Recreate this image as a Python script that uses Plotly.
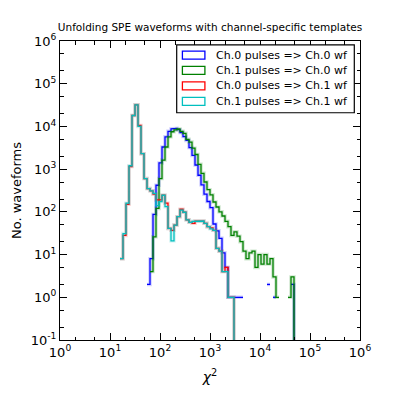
import numpy as np
import plotly.graph_objects as go

# Histogram binning: 100 log-spaced bins from 1 to 1e6
bin_edges = np.logspace(0, 6, 101)

# Counts per bin (first bin index given separately)
first_bin_ch0_ch0 = 29
ch0_pulses_ch0_wf = [2, 8, 87, 420, 1400, 3300, 5700, 7700, 8800, 9000, 8400, 7200,
                     5800, 4700, 3200, 2100, 1250, 720, 430, 260, 175, 125, 52, 36,
                     24, 11, 5, 1, 1, 1, 1, 1, 0, 0, 0, 0, 0, 0, 0, 0, 2, 0, 1,
                     0, 0, 0, 0, 0, 2]

first_bin_ch1_ch0 = 30
ch1_pulses_ch0_wf = [4, 26, 120, 600, 1630, 3300, 5700, 7500, 8300, 8700, 7700, 6900,
                     5000, 4300, 3100, 2200, 1300, 800, 500, 330, 250, 170, 130, 100,
                     80, 60, 45, 28, 34, 27, 20, 12, 8, 11, 12, 5, 10, 6, 10, 6, 8,
                     3, 1, 0, 0, 0, 1, 3]

first_bin_ch0_ch1 = 20
ch0_pulses_ch1_wf = [8, 28, 150, 1150, 18000, 32000, 10500, 2300, 600, 350, 310, 260,
                     190, 190, 245, 160, 41, 37, 49, 77, 115, 98, 65, 57, 54, 61, 61,
                     61, 54, 45, 42, 37, 14, 12, 4, 5, 1, 1]

first_bin_ch1_ch1 = 20
ch1_pulses_ch1_wf = [8, 31, 160, 1200, 18000, 32000, 10000, 2300, 600, 350, 310, 270,
                     140, 174, 245, 132, 41, 21, 49, 77, 110, 98, 65, 57, 60, 61, 61,
                     61, 54, 45, 40, 37, 14, 12, 4, 4, 1, 1]

series_names = ["Ch.0 pulses => Ch.0 wf", "Ch.1 pulses => Ch.0 wf",
                "Ch.0 pulses => Ch.1 wf", "Ch.1 pulses => Ch.1 wf"]
series_colors = ["#0000ff", "#008000", "#ff0000", "#00bfbf"]

x_tick_vals = [1, 10, 100, 1e3, 1e4, 1e5, 1e6]
x_tick_text = ["10<sup>0</sup>", "10<sup>1</sup>", "10<sup>2</sup>", "10<sup>3</sup>",
               "10<sup>4</sup>", "10<sup>5</sup>", "10<sup>6</sup>"]
y_tick_vals = [0.1, 1, 10, 100, 1e3, 1e4, 1e5, 1e6]
y_tick_text = ["10<sup>-1</sup>", "10<sup>0</sup>", "10<sup>1</sup>", "10<sup>2</sup>",
               "10<sup>3</sup>", "10<sup>4</sup>", "10<sup>5</sup>", "10<sup>6</sup>"]

Y_FLOOR = 1e-3  # zero counts at the end drop below the axis


def step_path(first_bin, counts):
    xs, ys = [], []
    nz = [i for i, v in enumerate(counts) if v > 0]
    last = nz[-1]
    prev = False
    for i, v in enumerate(counts):
        k = first_bin + i
        if v > 0:
            xs += [bin_edges[k], bin_edges[k + 1]]
            ys += [v, v]
            prev = True
        else:
            if prev:
                xs.append(None)
                ys.append(None)
            prev = False
    xs.append(bin_edges[first_bin + last + 1])
    ys.append(Y_FLOOR)
    return xs, ys


all_series = [(first_bin_ch0_ch0, ch0_pulses_ch0_wf),
              (first_bin_ch1_ch0, ch1_pulses_ch0_wf),
              (first_bin_ch0_ch1, ch0_pulses_ch1_wf),
              (first_bin_ch1_ch1, ch1_pulses_ch1_wf)]

fig = go.Figure()
for (fb, counts), name, col in zip(all_series, series_names, series_colors):
    xs, ys = step_path(fb, counts)
    fig.add_trace(go.Scatter(x=xs, y=ys, mode="lines", name=name, showlegend=False,
                             line=dict(color=col, width=3.5), opacity=0.18,
                             hoverinfo="skip"))
    fig.add_trace(go.Scatter(x=xs, y=ys, mode="lines", name=name, showlegend=False,
                             line=dict(color=col, width=1.3)))

axis_common = dict(type="log", showline=True, linecolor="black", linewidth=1,
                   mirror="ticks", ticks="inside", ticklen=7, tickcolor="black",
                   showgrid=False, zeroline=False,
                   tickfont=dict(family="DejaVu Sans", size=13, color="black"),
                   minor=dict(ticks="inside", ticklen=3.5, tickcolor="black",
                              showgrid=False))

fig.update_xaxes(range=[0, 6], tickmode="array", tickvals=x_tick_vals,
                 ticktext=x_tick_text,
                 title=dict(text="<i>χ</i><sup>2</sup>", standoff=13,
                            font=dict(family="DejaVu Sans", size=14, color="black")),
                 **axis_common)
fig.update_yaxes(range=[-1, 6], tickmode="array", tickvals=y_tick_vals,
                 ticktext=y_tick_text,
                 title=dict(text="No. waveforms", standoff=6,
                            font=dict(family="DejaVu Sans", size=13, color="black")),
                 **axis_common)

# Legend drawn as a framed box with rectangle handles
box_x0, box_x1, box_y0, box_y1 = 0.389, 0.981, 0.760, 0.987
fig.add_shape(type="rect", xref="paper", yref="paper", x0=box_x0, x1=box_x1,
              y0=box_y0, y1=box_y1, line=dict(color="black", width=1.2),
              fillcolor="white", layer="above")
entry_y = [0.953, 0.902, 0.850, 0.798]
for yy, name, col in zip(entry_y, series_names, series_colors):
    fig.add_shape(type="rect", xref="paper", yref="paper", x0=0.408, x1=0.483,
                  y0=yy - 0.0134, y1=yy + 0.0134, line=dict(color=col, width=1.3),
                  fillcolor="white", layer="above")
    fig.add_annotation(xref="paper", yref="paper", x=0.513, y=yy, text=name,
                       showarrow=False, xanchor="left", yanchor="middle",
                       font=dict(family="DejaVu Sans", size=11, color="black"))

fig.update_layout(
    width=400, height=400,
    margin=dict(l=60, r=40, t=41, b=60),
    paper_bgcolor="white", plot_bgcolor="white",
    showlegend=False,
    title=dict(text="Unfolding SPE waveforms with channel-specific templates",
               x=0.5, xref="paper", y=1 - 27 / 400, yref="container",
               xanchor="center", yanchor="middle",
               font=dict(family="DejaVu Sans", size=10.5, color="black")),
)

fig.write_html("out.html",
               config={"displayModeBar": False, "staticPlot": True},
               post_script="document.body.style.margin='0';"
                           "document.body.style.padding='0';")
